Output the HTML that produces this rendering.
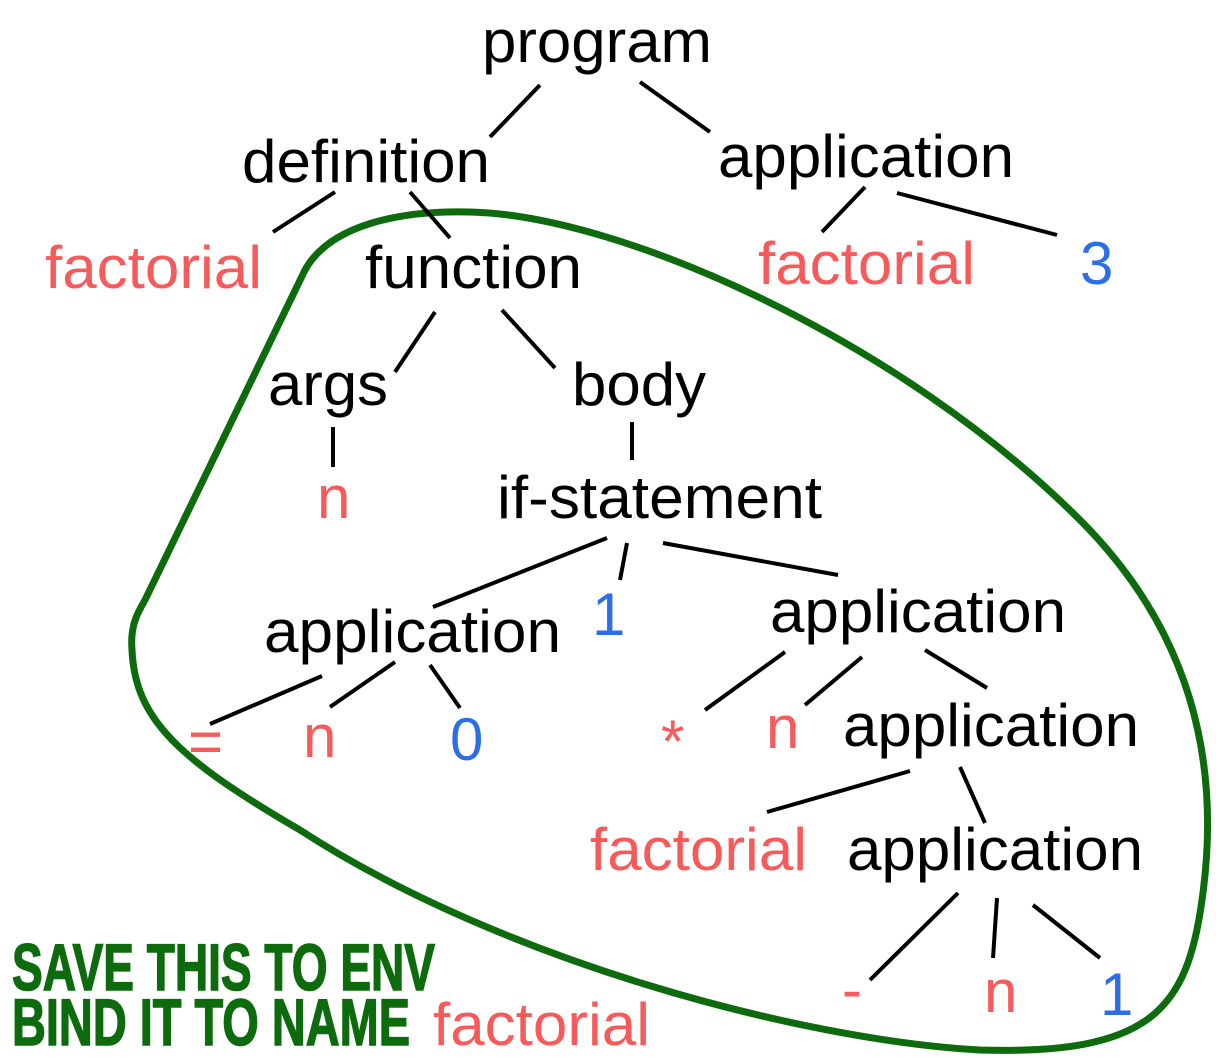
<!DOCTYPE html>
<html><head><meta charset="utf-8"><style>
html,body{margin:0;padding:0;background:#fff;}
svg{display:block;}
text{font-family:"Liberation Sans",Arial,sans-serif;font-size:60px;}
.k{fill:#000}.r{fill:#f75a5a}.b{fill:#2b6ee6}
.g{fill:#0d6b0d;font-weight:bold;font-size:66px;stroke:#0d6b0d;stroke-width:1.5}
</style></head><body>
<svg width="1216" height="1062" viewBox="0 0 1216 1062" xmlns="http://www.w3.org/2000/svg">
<path d="M145,600 L305,270 C330,225 400,210 470,212 C620,215 900,340 1080,520 C1190,630 1222,760 1202,900 C1187,1010 1150,1055 980,1050 C800,1040 500,960 300,830 C180,760 135,720 132,650 C130,625 138,612 145,600 Z" fill="none" stroke="#0d6b0d" stroke-width="7"/>
<g stroke="#000" stroke-width="4" fill="none">
<line x1="540" y1="85" x2="490" y2="137"/>
<line x1="640" y1="82" x2="710" y2="132"/>
<line x1="335" y1="192" x2="273" y2="232"/>
<line x1="410" y1="192" x2="450" y2="238"/>
<line x1="865" y1="187" x2="822" y2="232"/>
<line x1="897" y1="193" x2="1057" y2="235"/>
<line x1="435" y1="312" x2="395" y2="372"/>
<line x1="502" y1="310" x2="555" y2="368"/>
<line x1="333" y1="427" x2="333" y2="467"/>
<line x1="632" y1="422" x2="632" y2="460"/>
<line x1="607" y1="538" x2="433" y2="607"/>
<line x1="627" y1="543" x2="620" y2="580"/>
<line x1="663" y1="543" x2="838" y2="575"/>
<line x1="322" y1="676" x2="210" y2="724"/>
<line x1="395" y1="662" x2="330" y2="707"/>
<line x1="430" y1="665" x2="460" y2="708"/>
<line x1="785" y1="652" x2="705" y2="710"/>
<line x1="862" y1="657" x2="805" y2="705"/>
<line x1="925" y1="650" x2="987" y2="688"/>
<line x1="910" y1="771" x2="767" y2="812"/>
<line x1="960" y1="767" x2="985" y2="823"/>
<line x1="958" y1="893" x2="870" y2="980"/>
<line x1="997" y1="898" x2="993" y2="958"/>
<line x1="1033" y1="905" x2="1100" y2="958"/>
</g>
<text class="k" x="482" y="62" textLength="230" lengthAdjust="spacingAndGlyphs">program</text>
<text class="k" x="242" y="182" textLength="248" lengthAdjust="spacingAndGlyphs">definition</text>
<text class="k" x="718" y="177" textLength="296" lengthAdjust="spacingAndGlyphs">application</text>
<text class="r" x="45" y="288" textLength="217" lengthAdjust="spacingAndGlyphs">factorial</text>
<text class="k" x="365" y="288" textLength="217" lengthAdjust="spacingAndGlyphs">function</text>
<text class="r" x="758" y="284" textLength="217" lengthAdjust="spacingAndGlyphs">factorial</text>
<text class="b" x="1080" y="284">3</text>
<text class="k" x="268" y="405" textLength="120" lengthAdjust="spacingAndGlyphs">args</text>
<text class="k" x="572" y="405" textLength="134" lengthAdjust="spacingAndGlyphs">body</text>
<text class="r" x="317" y="518">n</text>
<text class="k" x="497" y="518" textLength="325" lengthAdjust="spacingAndGlyphs">if-statement</text>
<text class="k" x="264" y="652" textLength="297" lengthAdjust="spacingAndGlyphs">application</text>
<text class="b" x="592" y="635">1</text>
<text class="k" x="770" y="632" textLength="296" lengthAdjust="spacingAndGlyphs">application</text>
<text class="r" x="188" y="762">=</text>
<text class="r" x="303" y="757">n</text>
<text class="b" x="450" y="760">0</text>
<text class="r" x="661" y="762">*</text>
<text class="r" x="766" y="748">n</text>
<text class="k" x="843" y="746" textLength="296" lengthAdjust="spacingAndGlyphs">application</text>
<text class="r" x="590" y="870" textLength="217" lengthAdjust="spacingAndGlyphs">factorial</text>
<text class="k" x="847" y="870" textLength="296" lengthAdjust="spacingAndGlyphs">application</text>
<text class="r" x="842" y="1010">-</text>
<text class="r" x="984" y="1012">n</text>
<text class="b" x="1100" y="1015">1</text>
<text class="g" x="12" y="990" textLength="423" lengthAdjust="spacingAndGlyphs">SAVE THIS TO ENV</text>
<text class="g" x="12" y="1045" textLength="398" lengthAdjust="spacingAndGlyphs">BIND IT TO NAME</text>
<text class="r" x="433" y="1045" textLength="217" lengthAdjust="spacingAndGlyphs">factorial</text>
</svg>
</body></html>
